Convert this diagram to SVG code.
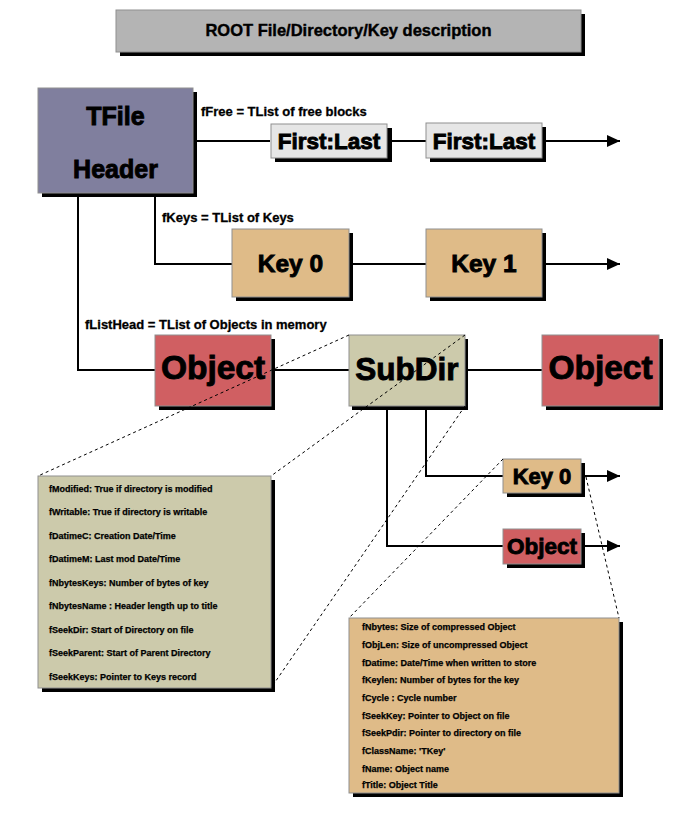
<svg xmlns="http://www.w3.org/2000/svg" width="698" height="830" viewBox="0 0 698 830">
<defs>
<style>
.sh{fill:#000}
.box{stroke:#8f8f8f;stroke-width:1}
.t{font-family:"Liberation Sans",Arial,sans-serif;font-weight:bold;fill:#000}
.big{text-anchor:middle;stroke:#000;stroke-width:0.9}
.ln{stroke:#000;stroke-width:2;fill:none}
.dash{stroke:#000;stroke-width:1;stroke-dasharray:3 3;fill:none}
.grey{fill:#b4b4b4}
.file{fill:#807f9e}
.blk{fill:#e6e6e6}
.key{fill:#dfbb88}
.obj{fill:#d05f62}
.dir{fill:#cccaab}
.lab{font-size:13px;stroke:#000;stroke-width:0.3}
.row{font-size:9px;stroke:#000;stroke-width:0.25}
</style>
<marker id="arr" markerUnits="userSpaceOnUse" markerWidth="14" markerHeight="12" refX="13" refY="6" orient="auto">
<path d="M0,0 L13,6 L0,12 Z" fill="#000"/>
</marker>
</defs>
<rect width="698" height="830" fill="#fff"/>

<g id="connectors">
<path class="ln" d="M197,141 H270"/>
<path class="ln" d="M387,141 H426"/>
<path class="ln" d="M546,141 H620" marker-end="url(#arr)"/>
<path class="ln" d="M155,197 V264 H232"/>
<path class="ln" d="M349,264 H426"/>
<path class="ln" d="M546,264 H620" marker-end="url(#arr)"/>
<path class="ln" d="M78,197 V370 H155"/>
<path class="ln" d="M275,370 H349"/>
<path class="ln" d="M468,370 H542"/>
<path class="ln" d="M387,410 V546 H503"/>
<path class="ln" d="M426,410 V476 H503"/>
<path class="ln" d="M585,476 H620" marker-end="url(#arr)"/>
<path class="ln" d="M585,546 H620" marker-end="url(#arr)"/>
</g>

<g id="title">
<rect class="sh" x="120" y="14" width="465" height="42"/>
<rect class="box grey" x="116" y="10" width="465" height="42"/>
<text class="t" x="348.5" y="36" font-size="16.5" text-anchor="middle" stroke="#000" stroke-width="0.4">ROOT File/Directory/Key description</text>
</g>

<g id="tfile">
<rect class="sh" x="42" y="92" width="155" height="105"/>
<rect class="box file" x="38" y="88" width="155" height="105"/>
<text class="t big" x="115.5" y="125" font-size="25">TFile</text>
<text class="t big" x="115.5" y="178" font-size="25">Header</text>
</g>

<g id="labels">
<text class="t lab" x="201" y="116">fFree = TList of free blocks</text>
<text class="t lab" x="162" y="222">fKeys = TList of Keys</text>
<text class="t lab" x="85" y="329">fListHead = TList of Objects in memory</text>
</g>

<g id="free1">
<rect class="sh" x="275" y="128" width="117" height="34"/>
<rect class="box blk" x="271" y="124" width="116" height="34"/>
<text class="t big" x="329" y="149" font-size="22.5">First:Last</text>
</g>
<g id="free2">
<rect class="sh" x="430" y="127" width="116" height="35"/>
<rect class="box blk" x="426" y="123" width="116" height="35"/>
<text class="t big" x="484" y="149" font-size="22.5">First:Last</text>
</g>

<g id="key0">
<rect class="sh" x="236" y="233" width="117" height="68"/>
<rect class="box key" x="232" y="229" width="117" height="68"/>
<text class="t big" x="290.5" y="272" font-size="24.5">Key 0</text>
</g>
<g id="key1">
<rect class="sh" x="430" y="233" width="116" height="68"/>
<rect class="box key" x="426" y="229" width="116" height="68"/>
<text class="t big" x="484" y="272" font-size="24.5">Key 1</text>
</g>

<g id="object1">
<rect class="sh" x="159" y="339" width="116" height="71"/>
<rect class="box obj" x="155" y="335" width="116" height="71"/>
<text class="t big" x="213" y="379" font-size="33.5">Object</text>
</g>
<g id="subdir">
<rect class="sh" x="352" y="339" width="116" height="71"/>
<rect class="box dir" x="349" y="335" width="116" height="71"/>
<text class="t big" x="407" y="380" font-size="31.5">SubDir</text>
</g>
<g id="object2">
<rect class="sh" x="546" y="339" width="117" height="71"/>
<rect class="box obj" x="542" y="335" width="117" height="71"/>
<text class="t big" x="600.5" y="379" font-size="33.5">Object</text>
</g>

<g id="key0small">
<rect class="sh" x="507" y="463" width="78" height="34"/>
<rect class="box key" x="503" y="459" width="78" height="34"/>
<text class="t big" x="542" y="484" font-size="22">Key 0</text>
</g>
<g id="objectsmall">
<rect class="sh" x="507" y="533" width="78" height="35"/>
<rect class="box obj" x="503" y="529" width="78" height="35"/>
<text class="t big" x="542" y="554" font-size="22.5">Object</text>
</g>

<g id="dirdesc">
<rect class="sh" x="42" y="480" width="233" height="212"/>
<rect class="box dir" x="38" y="476" width="233" height="212"/>
<g class="t row">
<text x="49" y="491.5">fModified: True if directory is modified</text>
<text x="49" y="515">fWritable: True if directory is writable</text>
<text x="49" y="538.5">fDatimeC: Creation Date/Time</text>
<text x="49" y="562">fDatimeM: Last mod Date/Time</text>
<text x="49" y="585.5">fNbytesKeys: Number of bytes of key</text>
<text x="49" y="609">fNbytesName : Header length up to title</text>
<text x="49" y="632.5">fSeekDir: Start of Directory on file</text>
<text x="49" y="656">fSeekParent: Start of Parent Directory</text>
<text x="49" y="679.5">fSeekKeys: Pointer to Keys record</text>
</g>
</g>

<g id="keydesc">
<rect class="sh" x="353" y="622" width="270" height="175"/>
<rect class="box key" x="349" y="618" width="270" height="175"/>
<g class="t row">
<text x="362" y="629.5">fNbytes: Size of compressed Object</text>
<text x="362" y="647.5">fObjLen: Size of uncompressed Object</text>
<text x="362" y="665.5">fDatime: Date/Time when written to store</text>
<text x="362" y="682.5">fKeylen: Number of bytes for the key</text>
<text x="362" y="700.5">fCycle : Cycle number</text>
<text x="362" y="718.5">fSeekKey: Pointer to Object on file</text>
<text x="362" y="735.5">fSeekPdir: Pointer to directory on file</text>
<text x="362" y="753.5">fClassName: 'TKey'</text>
<text x="362" y="771.5">fName: Object name</text>
<text x="362" y="787.5">fTitle: Object Title</text>
</g>
</g>

<g id="zoom-lines">
<path class="dash" d="M349,335 L38,476"/>
<path class="dash" d="M465,335 L271,476"/>
<path class="dash" d="M465,406 L271,688"/>
<path class="dash" d="M503,459 L349,618"/>
<path class="dash" d="M586,477 L619,618"/>
</g>
</svg>
